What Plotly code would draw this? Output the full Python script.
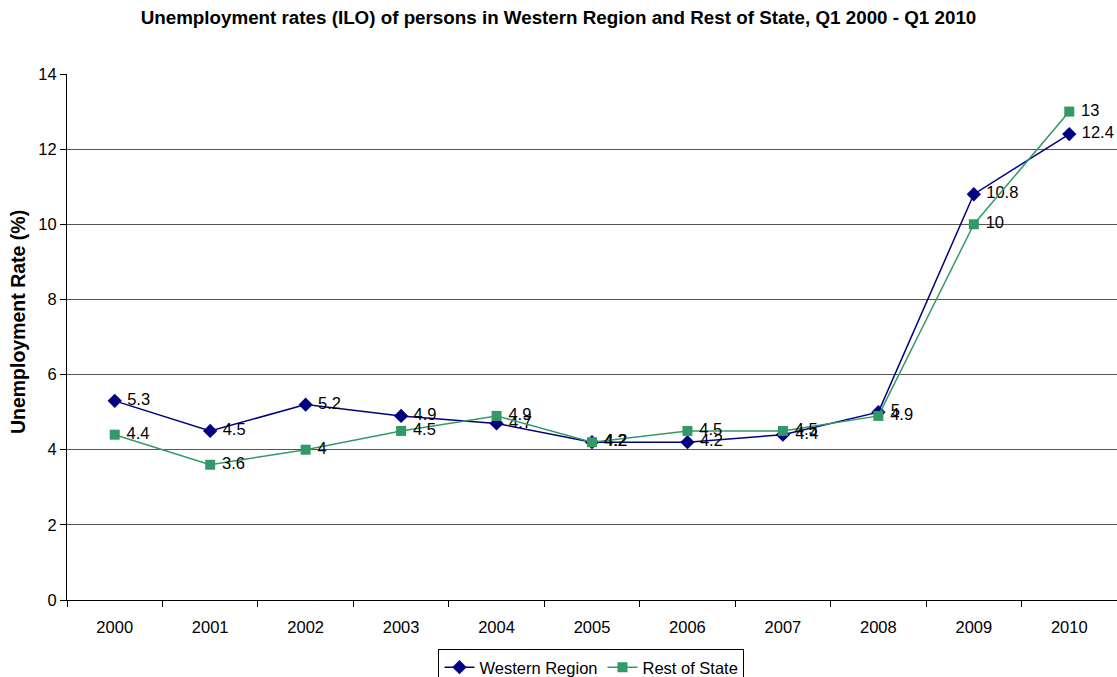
import plotly.graph_objects as go

years = ["2000", "2001", "2002", "2003", "2004", "2005", "2006", "2007", "2008", "2009", "2010"]
western_region = [5.3, 4.5, 5.2, 4.9, 4.7, 4.2, 4.2, 4.4, 5, 10.8, 12.4]
rest_of_state = [4.4, 3.6, 4.0, 4.5, 4.9, 4.2, 4.5, 4.5, 4.9, 10, 13]

font_family = "Liberation Sans, Arial, sans-serif"
label_size = 16.5


def point_labels(values):
    # small gap between each marker and its value label
    return ["\u00a0" + f"{v:g}" for v in values]


fig = go.Figure()
fig.add_trace(go.Scatter(
    x=years, y=western_region, name="Western Region",
    mode="lines+markers+text",
    line=dict(color="#000080", width=1.5),
    marker=dict(symbol="diamond", size=11, color="#000080"),
    text=point_labels(western_region),
    textposition="middle right",
    textfont=dict(family=font_family, size=label_size, color="#000000"),
))
fig.add_trace(go.Scatter(
    x=years, y=rest_of_state, name="Rest of State",
    mode="lines+markers+text",
    line=dict(color="#339966", width=1.5),
    marker=dict(symbol="square", size=10, color="#339966"),
    text=point_labels(rest_of_state),
    textposition="middle right",
    textfont=dict(family=font_family, size=label_size, color="#000000"),
))

fig.update_layout(
    width=1117, height=677,
    margin=dict(l=67, r=0, t=74, b=77),
    paper_bgcolor="white", plot_bgcolor="white",
    font=dict(family=font_family, size=label_size, color="#000000"),
    title=dict(
        text="<b>Unemployment rates (ILO) of persons in Western Region and Rest of State, Q1 2000 - Q1 2010</b>",
        x=0.5, xanchor="center", y=0.975, yanchor="middle",
        font=dict(family=font_family, size=18.8),
    ),
    showlegend=True,
    legend=dict(
        orientation="h", x=0.4995, xanchor="center",
        yref="container", y=0.0414, yanchor="top",
        bordercolor="#000000", borderwidth=1,
        font=dict(family=font_family, size=label_size),
        tracegroupgap=0,
    ),
    annotations=[dict(
        text="<b>Unemployment Rate (%)</b>",
        xref="paper", yref="paper", x=-0.0466, y=0.5285,
        xanchor="center", yanchor="middle", textangle=-90,
        showarrow=False, font=dict(family=font_family, size=19.5),
    )],
)
fig.update_xaxes(
    type="category", tickson="boundaries",
    ticks="outside", ticklen=6, tickcolor="#000000",
    showline=True, linecolor="#000000", linewidth=1,
    showgrid=False, tickfont=dict(size=label_size),
    ticklabelstandoff=12,
    range=[-0.5, 10.5],
)
fig.update_yaxes(
    range=[0, 14], dtick=2,
    ticks="outside", ticklen=6, tickcolor="#000000",
    showline=True, linecolor="#000000", linewidth=1,
    showgrid=True, gridcolor="#555555", gridwidth=1,
    zeroline=False, tickfont=dict(size=label_size),
)

fig.write_html("out.html")
